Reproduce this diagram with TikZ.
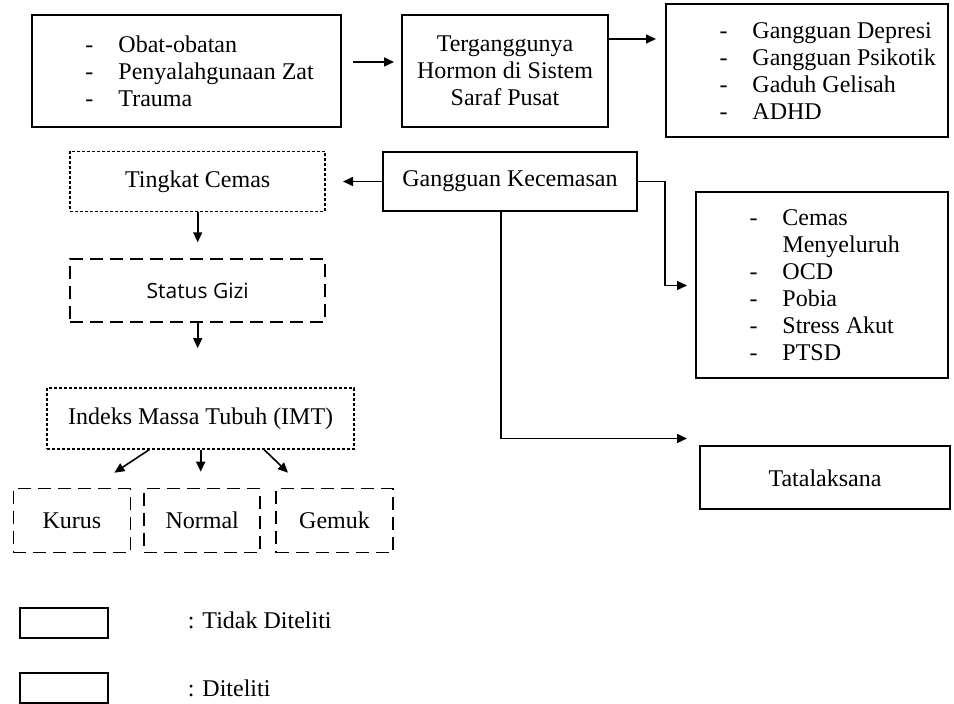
\documentclass[tikz,border=0pt]{standalone}
\usepackage{fontspec}
\setmainfont{Liberation Serif}
\newfontfamily\gizifont{Open Sans}
\usepackage{tikz}
\usetikzlibrary{arrows.meta,positioning}
\newcommand\itm[1]{\hspace*{26.75pt}\makebox[16.5pt][l]{-}#1}

\begin{document}
\begin{tikzpicture}[
  box/.style={draw, line width=1pt, inner sep=2pt, align=center,
    font=\fontsize{12}{13.5}\selectfont},
  dotbox/.style={box, line width=0.8pt, dash pattern=on 1.5pt off 1pt},
  dashbox/.style={box, line width=0.9pt, dash pattern=on 6.5pt off 3.5pt},
  list/.style={box, inner xsep=0pt, text width=#1, align=flush left},
  arr/.style={-{Triangle[length=5pt,width=4.5pt]}, line width=0.8pt},
  lbl/.style={inner sep=0pt, font=\fontsize{12}{13.5}\selectfont}
]
  \useasboundingbox (0,0) rectangle (477pt,-352pt);

  % top row
  \node[list=154.5pt, minimum height=56pt] (src) at (93.25pt,-35.5pt)
    {\itm{Obat-obatan}\\ \itm{Penyalahgunaan Zat}\\ \itm{Trauma}};
  \node[box, minimum width=103pt, minimum height=56pt, right=29.5pt of src] (horm)
    {Terganggunya\\ Hormon di Sistem\\ Saraf Pusat};
  \node[list=141pt, minimum height=66.5pt, right=28pt of horm] (dist)
    {\itm{Gangguan Depresi}\\ \itm{Gangguan Psikotik}\\ \itm{Gaduh Gelisah}\\ \itm{ADHD}};

  % anxiety branch
  \node[box, minimum width=127pt, minimum height=29.5pt, below=11.5pt of horm, xshift=2.5pt] (gk)
    {Gangguan Kecemasan};
  \node[list=126pt, minimum height=93pt, below=26.5pt of dist, xshift=7.5pt] (anx)
    {\itm{Cemas}\\ \hspace*{43.25pt}Menyeluruh\\ \itm{OCD}\\ \itm{Pobia}\\ \itm{Stress Akut}\\ \itm{PTSD}};
  \node[box, minimum width=125pt, minimum height=31.5pt, below=33pt of anx, xshift=1.5pt] (tata)
    {Tatalaksana};

  % studied column
  \node[dotbox, minimum width=127.5pt, minimum height=30pt, left=28pt of gk] (cemas)
    {Tingkat Cemas};
  \node[dashbox, minimum width=127.5pt, minimum height=31.5pt, below=23pt of cemas] (gizi)
    {\gizifont\fontsize{10.5}{12}\selectfont Status Gizi};
  \node[dotbox, minimum width=153.5pt, minimum height=30.5pt, below=32pt of gizi, xshift=1.5pt] (imt)
    {Indeks Massa Tubuh (IMT)};
  \node[dashbox, minimum width=58pt, minimum height=32pt, below=19pt of imt, xshift=0.75pt] (normal)
    {Normal};
  \node[dashbox, minimum width=58.5pt, minimum height=32pt, left=6pt of normal] (kurus)
    {Kurus};
  \node[dashbox, minimum width=58.5pt, minimum height=32pt, right=7pt of normal] (gemuk)
    {Gemuk};

  % legend
  \node[box, minimum width=44pt, minimum height=15pt, below=27pt of kurus, xshift=-3.75pt] (leg1) {};
  \node[box, minimum width=44pt, minimum height=15pt, below=16.5pt of leg1] (leg2) {};
  \node[lbl, right=39pt of leg1, yshift=1.5pt] (legt1) {: Tidak Diteliti};
  \node[lbl, right=39pt of leg2] (legt2) {: Diteliti};

  % connectors
  \draw[arr, shorten <=5.5pt, shorten >=3.5pt] ([yshift=4.5pt]src.east) -- ([yshift=4.5pt]horm.west);
  \draw[arr, shorten >=4.5pt] ([yshift=16pt]horm.east) -- ([yshift=16pt]dist.west);
  \draw[arr, shorten >=8.5pt] (gk.west) -- (gk.west -| cemas.east);
  \draw[arr, shorten >=8pt] (cemas) -- (cemas |- gizi.north);
  \draw[arr, shorten >=19.5pt] (gizi) -- (gizi |- imt.north);
  \draw[arr] ([xshift=-25.75pt]imt.south) -- ([xshift=21.25pt, yshift=7.5pt]kurus.north);
  \draw[arr, shorten >=8pt] (imt) -- (imt |- normal.north);
  \draw[arr] ([xshift=31.75pt]imt.south) -- ([xshift=-23.25pt, yshift=7.5pt]gemuk.north);
  \draw[arr, shorten >=4pt] (gk.east) -- ++(13.5pt,0) |- (anx.west);
  \draw[arr, shorten >=6pt] ([xshift=-4.5pt]gk.south) |- ([yshift=3.5pt]tata.north west);
\end{tikzpicture}
\end{document}
